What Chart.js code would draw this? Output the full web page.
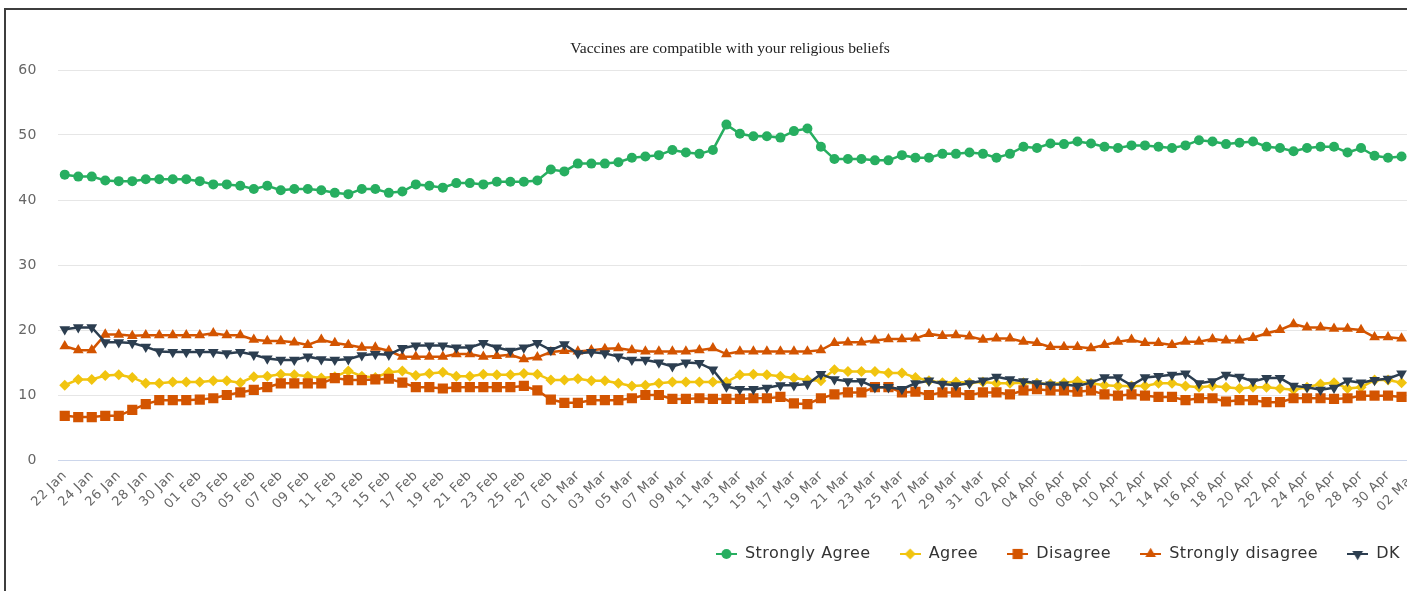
<!DOCTYPE html>
<html><head><meta charset="utf-8">
<script src="https://cdn.jsdelivr.net/npm/chart.js@4/dist/chart.umd.min.js"></script>
<style>
html,body{margin:0;padding:0;background:#fff;width:1418px;height:591px;overflow:hidden;}
#frame{position:absolute;left:4px;top:8px;width:1401px;height:700px;border-left:2px solid #3d3d3d;border-top:2px solid #3d3d3d;}
#clip{position:absolute;left:6px;top:10px;width:1401px;height:581px;overflow:hidden;}
#box{position:absolute;left:0;top:0;width:1423px;height:581px;}
#title{position:absolute;left:430px;width:600px;top:38px;text-align:center;font-family:"Liberation Serif","Times New Roman",serif;font-size:15.6px;line-height:20px;color:#222;z-index:2;}
</style></head>
<body>
<div id="frame"></div>
<div id="clip"><div id="box"><canvas id="c"></canvas></div></div>
<div id="title">Vaccines are compatible with your religious beliefs</div>
<script>
const categories = ["22 Jan","23 Jan","24 Jan","25 Jan","26 Jan","27 Jan","28 Jan","29 Jan","30 Jan","31 Jan",
"01 Feb","02 Feb","03 Feb","04 Feb","05 Feb","06 Feb","07 Feb","08 Feb","09 Feb","10 Feb","11 Feb","12 Feb","13 Feb","14 Feb",
"15 Feb","16 Feb","17 Feb","18 Feb","19 Feb","20 Feb","21 Feb","22 Feb","23 Feb","24 Feb","25 Feb","26 Feb","27 Feb","28 Feb",
"01 Mar","02 Mar","03 Mar","04 Mar","05 Mar","06 Mar","07 Mar","08 Mar","09 Mar","10 Mar","11 Mar","12 Mar","13 Mar","14 Mar",
"15 Mar","16 Mar","17 Mar","18 Mar","19 Mar","20 Mar","21 Mar","22 Mar","23 Mar","24 Mar","25 Mar","26 Mar","27 Mar","28 Mar",
"29 Mar","30 Mar","31 Mar","01 Apr","02 Apr","03 Apr","04 Apr","05 Apr","06 Apr","07 Apr","08 Apr","09 Apr","10 Apr","11 Apr",
"12 Apr","13 Apr","14 Apr","15 Apr","16 Apr","17 Apr","18 Apr","19 Apr","20 Apr","21 Apr","22 Apr","23 Apr","24 Apr","25 Apr",
"26 Apr","27 Apr","28 Apr","29 Apr","30 Apr","01 May","02 May"];

const stronglyAgree = [43.9,43.6,43.6,43.0,42.9,42.9,43.2,43.2,43.2,43.2,
42.9,42.4,42.4,42.2,41.7,42.2,41.5,41.7,41.7,41.5,41.1,40.9,41.7,41.7,41.1,41.3,42.4,42.2,41.9,42.6,42.6,42.4,42.8,42.8,42.8,43.0,44.7,44.4,
45.6,45.6,45.6,45.8,46.5,46.7,46.9,47.7,47.3,47.1,47.7,51.6,50.2,49.8,49.8,49.6,50.6,51.0,48.2,46.3,46.3,46.3,46.1,46.1,46.9,46.5,46.5,47.1,47.1,47.3,47.1,
46.5,47.1,48.2,48.0,48.7,48.6,49.0,48.7,48.2,48.0,48.4,48.4,48.2,48.0,48.4,49.2,49.0,48.6,48.8,49.0,48.2,48.0,47.5,48.0,48.2,48.2,47.3,48.0,46.8,46.5,
46.7,null];

const agree = [11.5,12.4,12.4,13.0,13.1,12.7,11.8,11.8,12.0,12.0,
12.0,12.2,12.2,11.9,12.8,12.9,13.2,13.1,12.9,12.6,12.8,13.7,12.9,12.7,13.5,13.7,13.0,13.3,13.5,12.9,12.9,13.2,13.1,13.1,13.3,13.2,12.3,12.3,
12.5,12.2,12.2,11.8,11.4,11.5,11.8,12.0,12.0,12.0,12.0,12.0,13.1,13.2,13.1,12.9,12.6,12.3,12.2,13.9,13.6,13.6,13.6,13.4,13.4,12.7,12.2,11.9,12.0,11.9,12.0,
11.8,11.8,11.9,11.8,11.7,11.9,12.1,11.8,11.5,11.4,11.4,11.4,11.8,11.8,11.4,11.2,11.4,11.2,11.0,11.2,11.2,11.0,10.8,11.2,11.7,11.9,11.0,11.2,12.3,12.3,
11.9,null];

const disagree = [6.8,6.6,6.6,6.8,6.8,7.7,8.6,9.2,9.2,9.2,
9.3,9.5,10.0,10.4,10.8,11.2,11.8,11.8,11.8,11.8,12.6,12.3,12.3,12.4,12.5,11.9,11.2,11.2,11.0,11.2,11.2,11.2,11.2,11.2,11.4,10.7,9.3,8.8,
8.8,9.2,9.2,9.2,9.5,10.0,10.0,9.4,9.4,9.5,9.4,9.4,9.4,9.5,9.5,9.7,8.7,8.6,9.5,10.1,10.4,10.4,11.2,11.2,10.4,10.5,10.0,10.4,10.4,10.0,10.4,
10.4,10.1,10.7,10.9,10.7,10.7,10.5,10.7,10.1,9.9,10.1,9.9,9.7,9.7,9.2,9.5,9.5,9.0,9.2,9.2,8.9,8.9,9.5,9.5,9.5,9.4,9.5,9.9,9.9,9.9,
9.7,null];

const stronglyDisagree = [17.5,16.9,16.9,19.3,19.3,19.1,19.2,19.2,19.2,19.2,
19.2,19.5,19.2,19.2,18.5,18.3,18.3,18.1,17.7,18.5,18.0,17.7,17.3,17.3,16.8,15.9,15.9,15.9,15.9,16.3,16.3,15.9,16.0,16.2,15.5,15.8,16.6,16.8,
16.7,16.9,17.1,17.2,16.9,16.7,16.7,16.7,16.7,16.9,17.2,16.3,16.7,16.7,16.7,16.7,16.7,16.7,16.9,18.0,18.1,18.1,18.4,18.6,18.6,18.7,19.4,19.1,19.2,19.0,18.5,
18.7,18.7,18.2,18.0,17.4,17.4,17.4,17.2,17.7,18.2,18.5,18.0,18.0,17.7,18.2,18.2,18.6,18.4,18.4,18.8,19.5,20.0,20.9,20.4,20.4,20.2,20.2,20.0,18.9,18.9,
18.7,null];

const dk = [20.1,20.4,20.4,18.1,18.1,18.0,17.4,16.7,16.6,16.6,
16.6,16.6,16.4,16.6,16.2,15.6,15.4,15.4,15.9,15.5,15.4,15.5,16.1,16.3,16.2,17.2,17.6,17.6,17.6,17.3,17.3,18.0,17.3,16.8,17.3,18.0,16.9,17.8,
16.4,16.6,16.4,15.9,15.4,15.4,15.0,14.4,15.0,14.9,13.9,11.3,10.9,10.9,11.1,11.5,11.5,11.7,13.2,12.4,12.1,12.1,11.2,11.2,10.9,11.8,12.2,11.7,11.5,11.8,12.2,
12.8,12.4,12.1,11.8,11.6,11.6,11.4,11.9,12.7,12.7,11.5,12.7,12.9,13.1,13.3,11.8,12.1,13.1,12.8,12.1,12.6,12.6,11.4,11.2,10.8,11.1,12.2,11.9,12.3,12.5,
13.3,null];

const seriesNames = ["Strongly Agree","Agree","Disagree","Strongly disagree","DK"];
const seriesColors = ["#27ae60","#f1c40f","#d35400","#d35400","#2c3e50"];
const seriesStyles = ["circle","rectRot","rect","triangle","triangle"];
const seriesRotation = [0,0,0,0,180];
const seriesRadius = [5,5.5,7.2,6.2,6.2];
const seriesData = [stronglyAgree, agree, disagree, stronglyDisagree, dk];

const LS = '0.5px';
const lsPlugin = {
  id: 'ls',
  beforeUpdate(c){ c.ctx.letterSpacing = LS; },
  beforeLayout(c){ c.ctx.letterSpacing = LS; },
  beforeDraw(c){ c.ctx.letterSpacing = LS; }
};

function legendSymbol(i){
  const cv = document.createElement('canvas');
  cv.width = 21; cv.height = 14;
  const g = cv.getContext('2d');
  g.strokeStyle = seriesColors[i]; g.lineWidth = 2;
  g.beginPath(); g.moveTo(0,7); g.lineTo(21,7); g.stroke();
  g.fillStyle = seriesColors[i];
  Chart.helpers.drawPoint(g, {pointStyle: seriesStyles[i], radius: seriesRadius[i], rotation: seriesRotation[i], borderWidth: 0}, 10.5, 7);
  return cv;
}
const symbols = seriesNames.map((n,i)=>legendSymbol(i));

const datasets = seriesNames.map((name,i)=>({
  label: name,
  data: seriesData[i],
  borderColor: seriesColors[i],
  backgroundColor: seriesColors[i],
  pointBackgroundColor: seriesColors[i],
  pointBorderWidth: 0,
  pointStyle: seriesStyles[i],
  pointRotation: seriesRotation[i],
  pointRadius: seriesRadius[i],
  borderWidth: 2.5,
  tension: 0,
  order: 5 - i
}));

new Chart(document.getElementById('c'), {
  type: 'line',
  data: { labels: categories, datasets },
  plugins: [lsPlugin],
  options: {
    responsive: true,
    maintainAspectRatio: false,
    animation: false,
    events: [],
    layout: { padding: { top: 60, left: 0, right: 0, bottom: 19 } },
    plugins: {
      title: { display: false },
      tooltip: { enabled: false },
      legend: {
        position: 'bottom',
        align: 'end',
        labels: {
          usePointStyle: true,
          pointStyleWidth: 21,
          padding: 29,
          color: '#333',
          font: { family: 'DejaVu Sans', size: 16 },
          generateLabels(chart){
            const items = Chart.defaults.plugins.legend.labels.generateLabels(chart);
            items.sort((a,b)=>a.datasetIndex-b.datasetIndex);
            items.forEach(it=>{ it.pointStyle = symbols[it.datasetIndex]; it.rotation = 0; });
            return items;
          }
        }
      }
    },
    scales: {
      x: {
        type: 'category',
        offset: true,
        grid: { display: false, drawTicks: false },
        border: { display: true, color: '#ccd6eb', width: 1 },
        ticks: {
          autoSkip: false, minRotation: 45, maxRotation: 45, padding: 8,
          color: '#666', font: { family: 'DejaVu Sans', size: 13 },
          callback(v, i){ return i % 2 === 0 ? this.getLabelForValue(v) : ''; }
        },
        afterFit(s){ s.height = 57; s.paddingLeft = 0; s.paddingRight = 0; }
      },
      y: {
        min: 0, max: 60,
        ticks: { stepSize: 10, padding: 21, color: '#666', font: { family: 'DejaVu Sans', size: 14 } },
        grid: { color: (c)=> (c.tick && c.tick.value === 0) ? '#ccd6eb' : '#e6e6e6', drawTicks: false, lineWidth: 1 },
        border: { display: false },
        afterFit(s){ s.width = 52; s.paddingTop = 0; s.paddingBottom = 0; }
      }
    }
  }
});
</script>
</body></html>
